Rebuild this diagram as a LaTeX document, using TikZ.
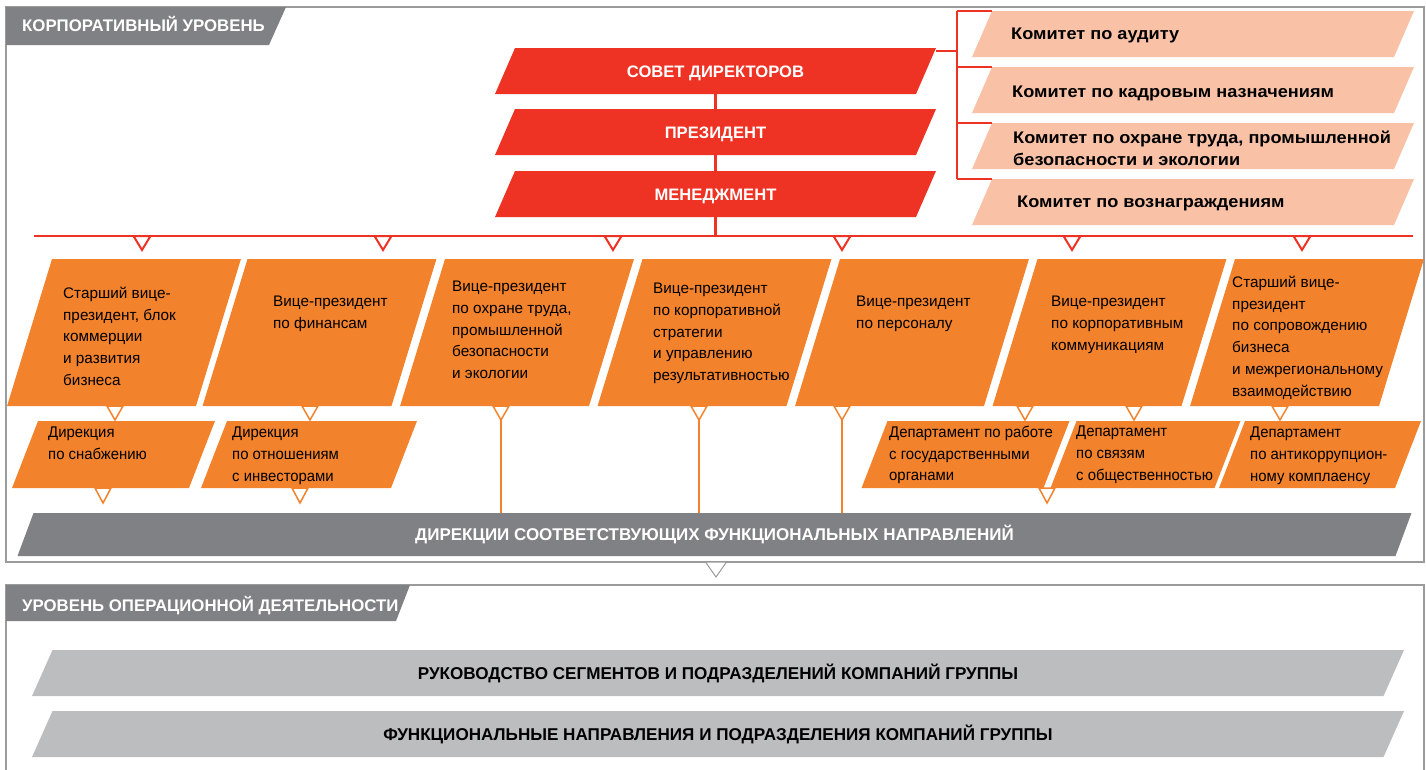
\documentclass[tikz,border=0pt]{standalone}
\usepackage{fontspec}
\setmainfont{Liberation Sans}
\newfontfamily\condfont[FakeStretch=0.96]{Liberation Sans}
\newfontfamily\widefont[FakeStretch=1.08]{Liberation Sans}
\usetikzlibrary{shapes.geometric}

\definecolor{corpred}{RGB}{238,50,36}
\definecolor{vporange}{RGB}{243,130,45}
\definecolor{salmon}{RGB}{249,194,167}
\definecolor{bardark}{RGB}{128,129,132}
\definecolor{barlight}{RGB}{188,189,191}
\definecolor{framegray}{RGB}{155,155,155}

\tikzset{
  slab/.style={shape=trapezium, inner sep=0pt, outer sep=0pt},
  redbox/.style={slab, fill=corpred, trapezium left angle=66.5, trapezium right angle=113.5,
    text height=29pt, text depth=17pt, text=white,
    font=\bfseries\fontsize{16.6}{20}\selectfont},
  commbox/.style={slab, fill=salmon, trapezium left angle=66.5, trapezium right angle=113.5,
    text height=46pt, text depth=0pt},
  vpbox/.style={slab, fill=vporange, trapezium left angle=73, trapezium right angle=107,
    text height=147pt, text depth=0pt},
  dirbox/.style={slab, fill=vporange, trapezium left angle=68.8, trapezium right angle=111.2,
    text height=67pt, text depth=0pt},
  darkbar/.style={slab, fill=bardark, trapezium left angle=69.6, trapezium right angle=110.4,
    text height=27.6pt, text depth=15.4pt, text=white,
    font=\bfseries\fontsize{17}{20}\selectfont},
  lightbar/.style={slab, fill=barlight, trapezium left angle=66, trapezium right angle=114,
    text height=29.1pt, text depth=16.9pt,
    font=\bfseries\fontsize{17.1}{20}\selectfont},
  frame/.style={draw=framegray, line width=1.5pt},
  headtext/.style={anchor=base west, inner sep=0pt, text=white,
    font=\bfseries\fontsize{16.8}{20}\selectfont},
  commtext/.style={anchor=north west, inner sep=0pt, align=left,
    font=\widefont\bfseries\fontsize{16.8}{22}\selectfont},
  vptext/.style={anchor=north west, inner sep=0pt, align=left,
    font=\fontsize{15.3}{21.7}\selectfont},
  dirtext/.style={anchor=north west, inner sep=0pt, align=left,
    font=\condfont\fontsize{15.5}{21.7}\selectfont},
  redline/.style={draw=corpred, line width=2.3pt},
  oline/.style={draw=vporange, line width=1.5pt},
  pics/vtri/.style n args={2}{code={\path[pic actions] (-#1,0) -- (#1,0) -- (0,#2) -- cycle;}},
  redtri/.style={draw=corpred, fill=white, line width=2pt, line join=miter},
  oratri/.style={draw=vporange, fill=white, line width=1.5pt},
  graytri/.style={draw=framegray, fill=white, line width=1pt}
}

\begin{document}
\begin{tikzpicture}[x=1pt, y=-1pt]
\useasboundingbox (0,0) rectangle (1426,769);

\draw[frame] (6,7) rectangle (1424,562);
\draw[frame] (6,585) rectangle (1424,775);
\fill[bardark] (6,7) -- (286,7) -- (269,45) -- (6,45) -- cycle;
\fill[bardark] (6,585) -- (410,585) -- (396,621) -- (6,621) -- cycle;
\node[headtext] (corphead) at (22,31) {КОРПОРАТИВНЫЙ УРОВЕНЬ};
\node[headtext] (ophead) at (22,611) {УРОВЕНЬ ОПЕРАЦИОННОЙ ДЕЯТЕЛЬНОСТИ};

\node[redbox] (sovet) at (715.5,71) {\makebox[401pt]{СОВЕТ ДИРЕКТОРОВ}};
\node[redbox] (prez) at (715.5,132) {\makebox[401pt]{ПРЕЗИДЕНТ}};
\node[redbox] (mgmt) at (715.5,194) {\makebox[401pt]{МЕНЕДЖМЕНТ}};

\node[commbox] (com1) at (1193,34) {\hspace*{402pt}};
\node[commbox] (com2) at (1193,90) {\hspace*{402pt}};
\node[commbox] (com3) at (1193,146) {\hspace*{402pt}};
\node[commbox] (com4) at (1193,202) {\hspace*{402pt}};
\node[commtext] (com1t) at (1011,28) {Комитет по аудиту};
\node[commtext] (com2t) at (1012,86) {Комитет по кадровым назначениям};
\node[commtext] (com3t) at (1013,131) {Комитет по охране труда, промышленной\\безопасности и экологии};
\node[commtext] (com4t) at (1017,196) {Комитет по вознаграждениям};

\coordinate (busl) at (34,236);
\coordinate (busr) at (1413,236);
\coordinate (brk) at (957,51);
\draw[redline] (sovet.south) -- (prez.north);
\draw[redline] (prez.south) -- (mgmt.north);
\draw[redline] (mgmt.south) -- (mgmt.south |- busl);
\draw[redline] (busl) -- (busr);
\draw[redline] (sovet.top right corner |- brk) -- (brk);
\draw[redline] (brk |- com1.top left corner) -- (brk |- com4.top left corner);
\draw[redline] (brk |- com1.top left corner) -- (com1.top left corner);
\draw[redline] (brk |- com2.top left corner) -- (com2.top left corner);
\draw[redline] (brk |- com3.top left corner) -- (com3.top left corner);
\draw[redline] (brk |- com4.top left corner) -- (com4.top left corner);
\pic[redtri] at (142,236) {vtri={8.5}{14}};
\pic[redtri] at (383,236) {vtri={8.5}{14}};
\pic[redtri] at (613,236) {vtri={8.5}{14}};
\pic[redtri] at (842,236) {vtri={8.5}{14}};
\pic[redtri] at (1072,236) {vtri={8.5}{14}};
\pic[redtri] at (1302,236) {vtri={8.5}{14}};

\node[vpbox] (vp1) at (124,332.5) {\hspace*{144pt}};
\node[vpbox] (vp2) at (319.5,332.5) {\hspace*{144pt}};
\node[vpbox] (vp3) at (517,332.5) {\hspace*{144pt}};
\node[vpbox] (vp4) at (714.5,332.5) {\hspace*{144pt}};
\node[vpbox] (vp5) at (912,332.5) {\hspace*{144pt}};
\node[vpbox] (vp6) at (1109.5,332.5) {\hspace*{144pt}};
\node[vpbox] (vp7) at (1307,332.5) {\hspace*{144pt}};
\node[vptext] (vp1t) at (63,287) {Старший вице-\\президент, блок\\коммерции\\и развития\\бизнеса};
\node[vptext] (vp2t) at (273,296) {Вице-президент\\по финансам};
\node[vptext] (vp3t) at (452,281) {Вице-президент\\по охране труда,\\промышленной\\безопасности\\и экологии};
\node[vptext] (vp4t) at (653,283) {Вице-президент\\по корпоративной\\стратегии\\и управлению\\результативностью};
\node[vptext] (vp5t) at (856,296) {Вице-президент\\по персоналу};
\node[vptext] (vp6t) at (1051,296) {Вице-президент\\по корпоративным\\коммуникациям};
\node[vptext] (vp7t) at (1232,276) {Старший вице-\\президент\\по сопровождению\\бизнеса\\и межрегиональному\\взаимодействию};

\node[dirbox] (supply) at (113.5,454.5) {\hspace*{151pt}};
\node[dirbox] (invest) at (309,454.5) {\hspace*{164pt}};
\node[dirbox] (govdep) at (965.5,454.5) {\hspace*{156pt}};
\node[dirbox] (prdep) at (1145.5,454.5) {\hspace*{138pt}};
\node[dirbox] (antidep) at (1320,454.5) {\hspace*{150pt}};
\node[dirtext] (supplyt) at (48,427) {Дирекция\\по снабжению};
\node[dirtext] (investt) at (232,427) {Дирекция\\по отношениям\\с инвесторами};
\node[dirtext] (govdept) at (889,426) {Департамент по работе\\с государственными\\органами};
\node[dirtext] (prdept) at (1076,426) {Департамент\\по связям\\с общественностью};
\node[dirtext] (antidept) at (1250,427) {Департамент\\по антикоррупцион-\\ному комплаенсу};

\node[darkbar] (funcdir) at (714.5,534.5) {\makebox[1362pt]{ДИРЕКЦИИ СООТВЕТСТВУЮЩИХ ФУНКЦИОНАЛЬНЫХ НАПРАВЛЕНИЙ}};
\node[lightbar] (segments) at (718,673) {\makebox[1331pt]{РУКОВОДСТВО СЕГМЕНТОВ И ПОДРАЗДЕЛЕНИЙ КОМПАНИЙ ГРУППЫ}};
\node[lightbar] (groupfunc) at (718,734) {\makebox[1331pt]{ФУНКЦИОНАЛЬНЫЕ НАПРАВЛЕНИЯ И ПОДРАЗДЕЛЕНИЯ КОМПАНИЙ ГРУППЫ}};

\draw[oline] (501,420) -- (501,420 |- funcdir.north);
\draw[oline] (699,420) -- (699,420 |- funcdir.north);
\draw[oline] (842,420) -- (842,420 |- funcdir.north);
\pic[oratri] at (115,406) {vtri={8}{14}};
\pic[oratri] at (310,406) {vtri={8}{14}};
\pic[oratri] at (501,406) {vtri={8}{14}};
\pic[oratri] at (699,406) {vtri={8}{14}};
\pic[oratri] at (842,406) {vtri={8}{14}};
\pic[oratri] at (1025,406) {vtri={8}{14}};
\pic[oratri] at (1134,406) {vtri={8}{14}};
\pic[oratri] at (1280,406) {vtri={8}{14}};
\pic[oratri] at (103,488) {vtri={8}{15}};
\pic[oratri] at (300,488) {vtri={8}{15}};
\pic[oratri] at (1047,488) {vtri={8}{15}};
\pic[graytri] at (716,562) {vtri={10.5}{15}};
\end{tikzpicture}
\end{document}
